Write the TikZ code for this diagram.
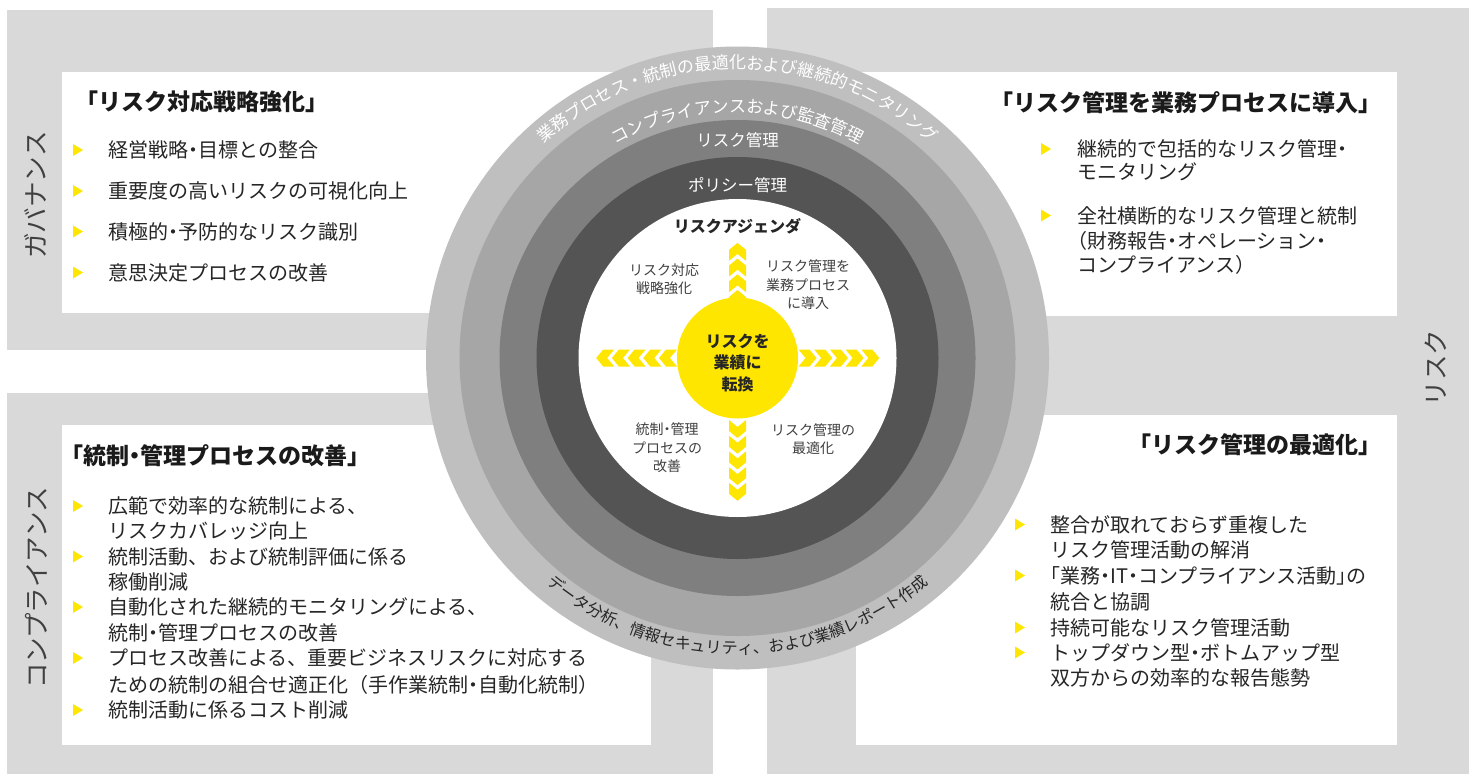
\documentclass[tikz,border=0pt]{standalone}
\usepackage{fontspec}
\setmainfont{Noto Sans CJK JP}
\usetikzlibrary{decorations.text}
\definecolor{panel}{HTML}{D9D9D9}
\definecolor{ringA}{HTML}{BFBFBF}
\definecolor{ringB}{HTML}{A6A6A6}
\definecolor{ringC}{HTML}{7F7F7F}
\definecolor{ringD}{HTML}{545454}
\definecolor{eyyellow}{HTML}{FFE600}
\definecolor{txt}{HTML}{262626}
\definecolor{ttlc}{HTML}{1A1A1A}
\definecolor{lbl}{HTML}{404040}
\newcommand\ndot{\makebox[0.5em]{・}}
\newcommand\lbr[1]{\makebox[0.5em][r]{#1}}
\newcommand\rbr[1]{\makebox[0.5em][l]{#1}}
\tikzset{
  body/.style={anchor=base west, inner sep=0pt, text=txt, font=\fontsize{20}{24}\selectfont},
  ttlL/.style={anchor=base west, inner sep=0pt, text=ttlc, font=\bfseries\fontsize{23}{27}\selectfont},
  ttlR/.style={ttlL, anchor=base east},
  side/.style={rotate=90, inner sep=0pt, text=lbl, font=\fontsize{25.5}{30}\selectfont},
  small/.style={align=center, inner sep=0pt, text=lbl, font=\fontsize{14}{18.5}\selectfont},
  ringtxt/.style={inner sep=0pt, text=white, font=\fontsize{16.5}{20}\selectfont},
  bul/.pic={\fill[eyyellow] (-5,-6) -- (5,0) -- (-5,6) -- cycle;},
  chevR/.pic={\fill[eyyellow] (0,-8.5) -- (11,-8.5) -- (18,0) -- (11,8.5) -- (0,8.5) -- (7,0) -- cycle;},
  chevL/.pic={\fill[eyyellow] (0,-8.5) -- (-11,-8.5) -- (-18,0) -- (-11,8.5) -- (0,8.5) -- (-7,0) -- cycle;},
  chevU/.pic={\fill[eyyellow] (-8.5,0) -- (-8.5,-11) -- (0,-18) -- (8.5,-11) -- (8.5,0) -- (0,-7) -- cycle;},
  chevD/.pic={\fill[eyyellow] (-8.5,0) -- (-8.5,11) -- (0,18) -- (8.5,11) -- (8.5,0) -- (0,7) -- cycle;}
}
\begin{document}
\begin{tikzpicture}[x=1pt,y=-1pt]
\useasboundingbox (0,0) rectangle (1469,774);
\fill[white] (0,0) rectangle (1469,774);
% panels
\fill[panel] (7,10) rectangle (713,350);
\fill[panel] (7,393) rectangle (713,774);
\fill[panel] (767,8) rectangle (1469,774);
% white boxes
\fill[white] (62,72) rectangle (651,313);
\fill[white] (62,425) rectangle (651,745);
\fill[white] (767,72) rectangle (1397,316);
\fill[white] (856,415) rectangle (1397,745);
% rings
\coordinate (c) at (737.5,358);
\fill[ringA] (c) circle[radius=311.5];
\fill[ringB] (c) circle[radius=278];
\fill[ringC] (c) circle[radius=238];
\fill[ringD] (c) circle[radius=201];
\fill[white] (c) circle[radius=159];
% ring texts
\path[decorate, decoration={text along path, text align=center, text color=white,
  text={|\fontsize{17}{20}\selectfont|業務プロセス・統制の最適化および継続的モニタリング}}]
  (c) ++(185:289) arc[start angle=185, end angle=355, radius=289];
\path[decorate, decoration={text along path, text align=center, text color=white,
  text={|\fontsize{17}{20}\selectfont|コンプライアンスおよび監査管理}}]
  (c) ++(185:245.5) arc[start angle=185, end angle=355, radius=245.5];
\path[decorate, decoration={text along path, text align=center, text color=txt,
  text={|\fontsize{16}{20}\selectfont|データ分析、情報セキュリティ、および業績レポート作成}}]
  (c) ++(175:296) arc[start angle=175, end angle=5, radius=296];
\node[ringtxt] (rk) at (737.5,140) {リスク管理};
\node[ringtxt] (pk) at (737.5,185) {ポリシー管理};
% arrows
\foreach \k in {0,...,4} { \pic at ({798.5+15.7*\k},358) {chevR}; }
\foreach \k in {0,...,4} { \pic at ({677-15.7*\k},358) {chevL}; }
\foreach \k in {0,...,3} { \pic at (737.5,{308-15.7*\k}) {chevU}; }
\foreach \k in {0,...,4} { \pic at (737.5,{420+15.7*\k}) {chevD}; }
% core
\node[circle, fill=eyyellow, minimum size=121pt, inner sep=0pt] (core) at (c) {};
\node[align=center, inner sep=0pt, text=txt, font=\bfseries\fontsize{16}{21.5}\selectfont] (coretxt) at (737.5,363) {リスクを\\業績に\\転換};
\node[inner sep=0pt, text=txt, font=\bfseries\fontsize{16}{20}\selectfont] (agenda) at (737.5,226) {リスクアジェンダ};
\node[small] (q1) at (664,279) {リスク対応\\戦略強化};
\node[small] (q2) at (808,285) {リスク管理を\\業務プロセス\\に導入};
\node[small] (q3) at (667,448) {統制\ndot 管理\\プロセスの\\改善};
\node[small] (q4) at (813,439) {リスク管理の\\最適化};
% side labels
\node[side] (sg) at (35,195) {ガバナンス};
\node[side] (sc) at (36,588) {コンプライアンス};
\node[side] (sr) at (1436,368) {リスク};
% top-left
\node[ttlL] (tl) at (75,110.5) {「リスク対応戦略強化」};
\pic at (78,150) {bul}; \node[body] (tl1) at (108,157.6) {経営戦略\ndot 目標との整合};
\pic at (78,191) {bul}; \node[body] (tl2) at (108,198.6) {重要度の高いリスクの可視化向上};
\pic at (78,231.5) {bul}; \node[body] (tl3) at (108,239.1) {積極的\ndot 予防的なリスク識別};
\pic at (78,272.5) {bul}; \node[body] (tl4) at (108,280.1) {意思決定プロセスの改善};
% top-right
\node[ttlR] (tr) at (1382,111.5) {「リスク管理を業務プロセスに導入」};
\pic at (1046,149) {bul}; \node[body] (tr1) at (1077,156.6) {継続的で包括的なリスク管理\ndot};
\node[body] (tr1b) at (1077,179.6) {モニタリング};
\pic at (1046,215.5) {bul}; \node[body] (tr2) at (1077,223.1) {全社横断的なリスク管理と統制};
\node[body] (tr2b) at (1077,248.6) {\lbr{（}財務報告\ndot オペレーション\ndot};
\node[body] (tr2c) at (1077,272.6) {コンプライアンス\rbr{）}};
% bottom-left
\node[ttlL] (bl) at (60,464.5) {「統制\ndot 管理プロセスの改善」};
\pic at (78,506) {bul}; \node[body] (bl1) at (108,513.6) {広範で効率的な統制による、};
\node[body] (bl1b) at (108,538.6) {リスクカバレッジ向上};
\pic at (78,556.5) {bul}; \node[body] (bl2) at (108,564.1) {統制活動、および統制評価に係る};
\node[body] (bl2b) at (108,589.6) {稼働削減};
\pic at (78,607) {bul}; \node[body] (bl3) at (108,614.6) {自動化された継続的モニタリングによる、};
\node[body] (bl3b) at (108,640.1) {統制\ndot 管理プロセスの改善};
\pic at (78,658) {bul}; \node[body] (bl4) at (108,665.6) {プロセス改善による、重要ビジネスリスクに対応する};
\node[body] (bl4b) at (108,692.1) {ための統制の組合せ適正化（手作業統制\ndot 自動化統制）};
\pic at (78,710) {bul}; \node[body] (bl5) at (108,717.6) {統制活動に係るコスト削減};
% bottom-right
\node[ttlR] (br) at (1382,453.5) {「リスク管理の最適化」};
\pic at (1020,524.5) {bul}; \node[body] (br1) at (1050,532.1) {整合が取れておらず重複した};
\node[body] (br1b) at (1050,557.1) {リスク管理活動の解消};
\pic at (1020,575.5) {bul}; \node[body] (br2) at (1050,583.1) {\lbr{「}業務\ndot IT\ndot コンプライアンス活動\rbr{」}の};
\node[body] (br2b) at (1050,609.1) {統合と協調};
\pic at (1020,627.5) {bul}; \node[body] (br3) at (1050,635.1) {持続可能なリスク管理活動};
\pic at (1020,652.5) {bul}; \node[body] (br4) at (1050,660.1) {トップダウン型\ndot ボトムアップ型};
\node[body] (br4b) at (1050,685.6) {双方からの効率的な報告態勢};
\end{tikzpicture}
\end{document}
